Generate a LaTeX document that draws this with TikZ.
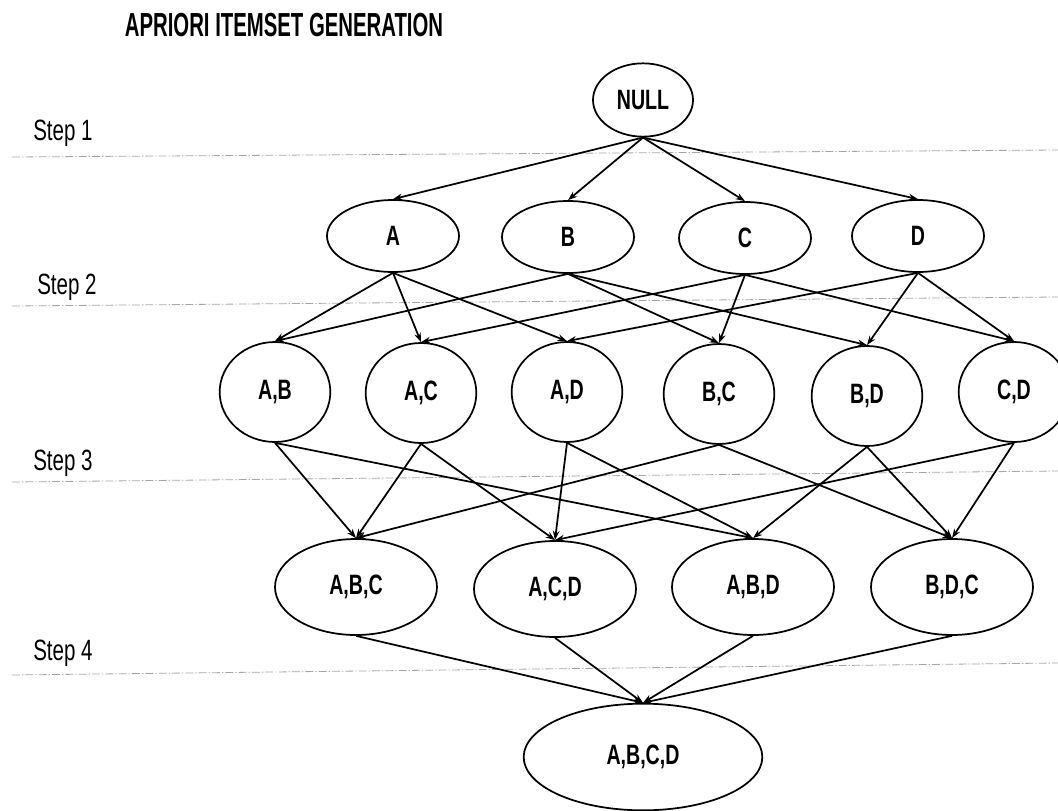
\documentclass[tikz,border=0pt]{standalone}
\usepackage{fontspec}
\setmainfont[FakeStretch=0.70]{Liberation Sans}
\newfontfamily\titlefont[FakeStretch=0.61]{Liberation Sans}
\usetikzlibrary{shapes.geometric,arrows.meta}
\begin{document}
\begin{tikzpicture}[x=0.75pt,y=-0.75pt,
  set/.style={ellipse,draw,line width=1.3pt,inner sep=0pt,font=\fontsize{21}{23}\selectfont\bfseries},
  nullset/.style={set,minimum width=75pt,minimum height=55pt},
  single/.style={set,minimum width=99pt,minimum height=54pt},
  pair/.style={set,minimum width=83pt,minimum height=75pt},
  triple/.style={set,minimum width=121.5pt,minimum height=72pt},
  quad/.style={set,minimum width=179pt,minimum height=80pt},
  edge/.style={line width=1.3pt,-{Stealth[length=7pt,width=5pt]}},
  stepline/.style={gray!70,line width=0.6pt,dash pattern=on 6pt off 1.5pt on 1pt off 1.5pt},
  steplabel/.style={anchor=west,inner sep=0pt,font=\fontsize{22}{24}\selectfont}]
\useasboundingbox (0,0) rectangle (1058,811);
\node[inner sep=0pt,font=\titlefont\fontsize{25}{27}\selectfont\bfseries] (title) at (284,25) {APRIORI ITEMSET GENERATION};
% step lines
\coordinate (s1a) at (12,157); \coordinate (s1b) at (1058,150);
\coordinate (s2a) at (12,306); \coordinate (s2b) at (1058,297);
\coordinate (s3a) at (12,482); \coordinate (s3b) at (1058,471);
\coordinate (s4a) at (12,675); \coordinate (s4b) at (1058,663);
\draw[stepline] (s1a) -- (s1b);
\draw[stepline] (s2a) -- (s2b);
\draw[stepline] (s3a) -- (s3b);
\draw[stepline] (s4a) -- (s4b);
\node[steplabel] (st1) at (33,133) {Step 1};
\node[steplabel] (st2) at (37,287) {Step 2};
\node[steplabel] (st3) at (33,463) {Step 3};
\node[steplabel] (st4) at (33,653) {Step 4};
% nodes
\node[nullset] (N) at (643,100) {NULL};
\node[single] (A) at (393,236) {A};
\node[single] (B) at (568,237) {B};
\node[single] (C) at (745,238) {C};
\node[single] (D) at (918,236) {D};
\node[pair] (AB) at (275,392) {A,B};
\node[pair] (AC) at (421,393) {A,C};
\node[pair] (AD) at (567,392) {A,D};
\node[pair] (BC) at (719,394) {B,C};
\node[pair] (BD) at (867,396) {B,D};
\node[pair] (CD) at (1014,392) {C,D};
\node[triple] (ABC) at (356,587) {A,B,C};
\node[triple] (ACD) at (555,589) {A,C,D};
\node[triple] (ABD) at (753,587) {A,B,D};
\node[triple] (BDC) at (952,587) {B,D,C};
\node[quad] (ABCD) at (643,757) {A,B,C,D};
% edges
\foreach \t in {A,B,C,D} \draw[edge] (N.south) -- (\t.north);
\draw[edge] (A.south) -- (AB.north);
\draw[edge] (A.south) -- (AC.north);
\draw[edge] (A.south) -- (AD.north);
\draw[edge] (B.south) -- (AB.north);
\draw[edge] (B.south) -- (BC.north);
\draw[edge] (B.south) -- (BD.north);
\draw[edge] (C.south) -- (AC.north);
\draw[edge] (C.south) -- (BC.north);
\draw[edge] (C.south) -- (CD.north);
\draw[edge] (D.south) -- (AD.north);
\draw[edge] (D.south) -- (BD.north);
\draw[edge] (D.south) -- (CD.north);
\draw[edge] (AB.south) -- (ABC.north);
\draw[edge] (AB.south) -- (ABD.north);
\draw[edge] (AC.south) -- (ABC.north);
\draw[edge] (AC.south) -- (ACD.north);
\draw[edge] (AD.south) -- (ACD.north);
\draw[edge] (AD.south) -- (ABD.north);
\draw[edge] (BC.south) -- (ABC.north);
\draw[edge] (BC.south) -- (BDC.north);
\draw[edge] (BD.south) -- (ABD.north);
\draw[edge] (BD.south) -- (BDC.north);
\draw[edge] (CD.south) -- (ACD.north);
\draw[edge] (CD.south) -- (BDC.north);
\foreach \t in {ABC,ACD,ABD,BDC} \draw[edge] (\t.south) -- (ABCD.north);
\end{tikzpicture}
\end{document}
